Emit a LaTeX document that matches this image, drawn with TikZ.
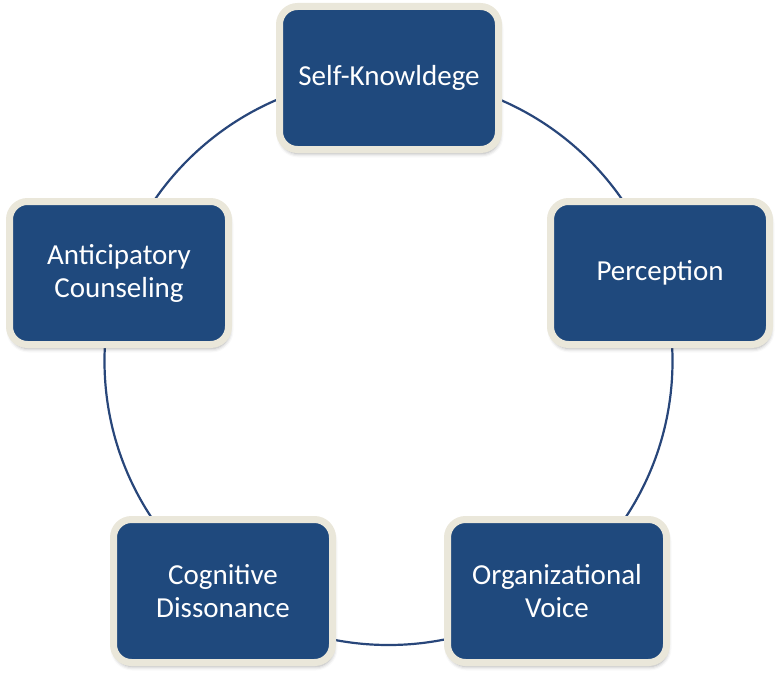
\documentclass[tikz,border=0pt]{standalone}
\usepackage{fontspec}
\setmainfont{Carlito}
\usetikzlibrary{shadows.blur}
\definecolor{boxblue}{RGB}{31,73,125}
\definecolor{boxrim}{RGB}{234,231,218}
\definecolor{ringblue}{RGB}{40,70,122}
\begin{document}
\begin{tikzpicture}[x=1pt,y=-1pt,
  cyclebox/.style={draw=boxrim, fill=boxblue, line width=7pt, rounded corners=18pt,
    minimum width=219pt, minimum height=143pt, text=white, align=center,
    font=\fontsize{29}{33}\selectfont,
    blur shadow={shadow xshift=1pt, shadow yshift=-4pt, shadow blur radius=4pt, shadow opacity=35}},
  ring/.style={draw=ringblue, line width=2.2pt}]
\useasboundingbox (0,0) rectangle (778,677);
\coordinate (c) at (388.5,361);
\draw[ring] (c) circle (284);
\node[cyclebox] (sk) at (389,78) {Self-Knowldege};
\node[cyclebox] (pe) at (660,273) {Perception};
\node[cyclebox] (ov) at (557,591) {Organizational\\Voice};
\node[cyclebox] (cd) at (223,591) {Cognitive\\Dissonance};
\node[cyclebox] (ac) at (119,273) {Anticipatory\\Counseling};
\end{tikzpicture}
\end{document}
